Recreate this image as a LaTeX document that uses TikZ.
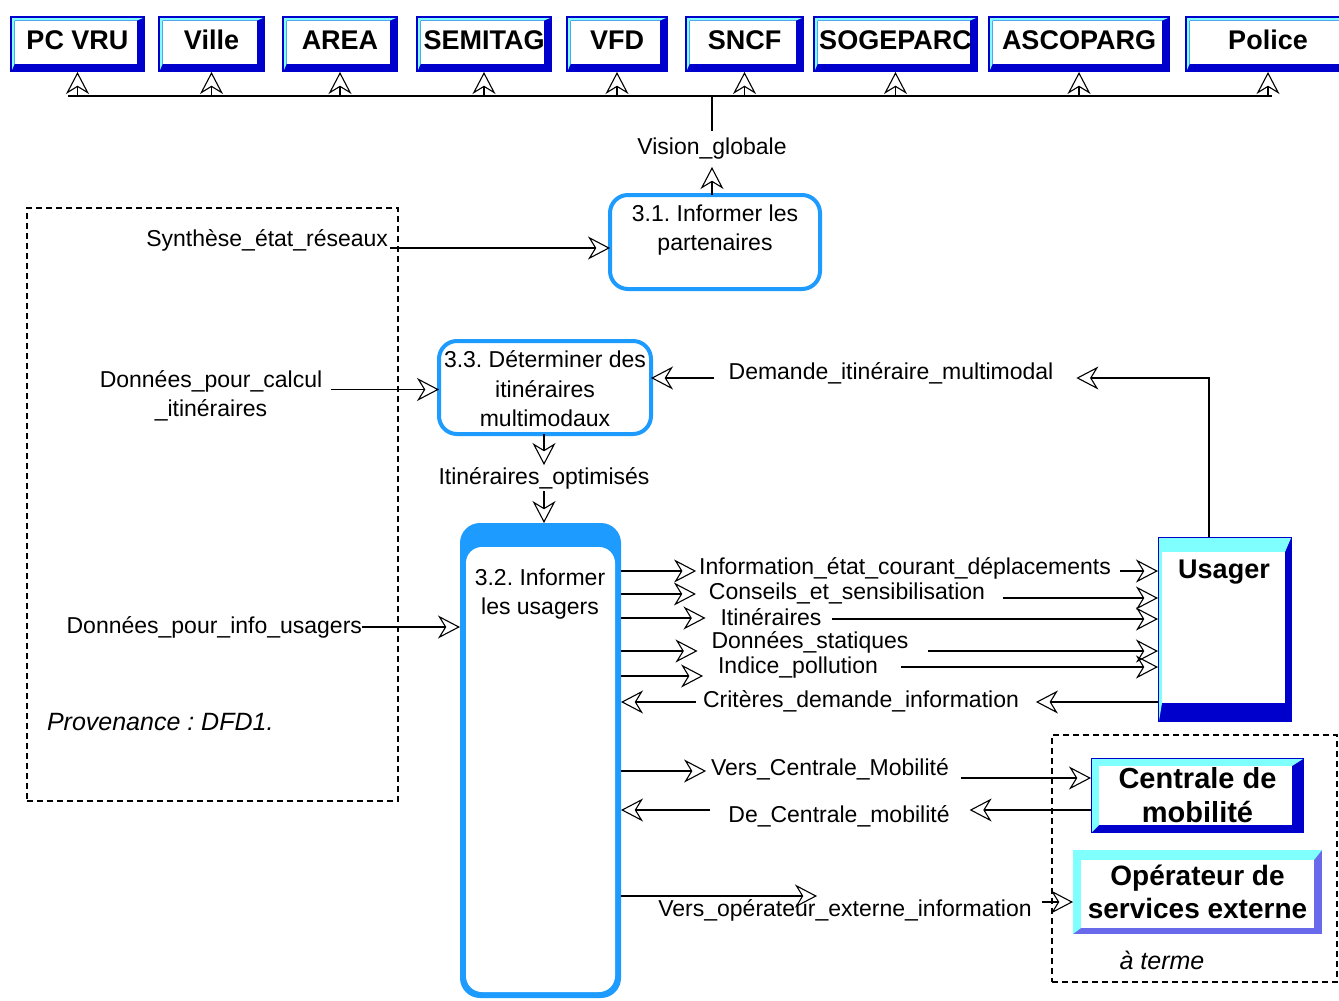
\documentclass[tikz,border=0pt]{standalone}
\usepackage{fontspec}
\setmainfont{Liberation Sans}
\usetikzlibrary{arrows.meta,calc}
\definecolor{procblue}{RGB}{30,155,255}
\definecolor{entblue}{RGB}{0,0,205}
\definecolor{entcyan}{RGB}{128,255,255}
\definecolor{entdots}{RGB}{105,105,235}
\frenchspacing
\begin{document}
\begin{tikzpicture}[x=0.5pt,y=-0.5pt,
  every node/.style={outer sep=0pt},
  txt/.style={font=\fontsize{11.5}{14.75}\selectfont, inner sep=0pt, align=center},
  flowlab/.style={txt, text height=8.5pt, text depth=2.5pt},
  note/.style={font=\fontsize{12.5}{15}\selectfont\itshape, inner sep=0pt},
  ent/.style={fill=entblue, inner sep=0pt, align=center},
  bevel/.style n args={5}{path picture={
    \fill[entcyan]
      ([shift={(#1,-#1)}]path picture bounding box.north west) --
      ([shift={(-#1,-#1)}]path picture bounding box.north east) --
      ([shift={(-#4,-#1-#3)}]path picture bounding box.north east) --
      ([shift={(#1+#2,-#1-#3)}]path picture bounding box.north west) --
      ([shift={(#1+#2,#5)}]path picture bounding box.south west) --
      ([shift={(#1,#1)}]path picture bounding box.south west) -- cycle;
    \fill[white]
      ([shift={(#1+#2,-#1-#3)}]path picture bounding box.north west) rectangle
      ([shift={(-#4,#5)}]path picture bounding box.south east);
  }},
  partner/.style={ent, bevel={1pt}{1.25pt}{1.25pt}{4pt}{4pt},
    minimum height=28pt, text height=10pt, text depth=4.5pt,
    font=\fontsize{13.5}{17}\selectfont\bfseries},
  proc/.style={draw=procblue, line width=2pt, rounded corners=9pt, inner sep=0pt},
  wire/.style={line width=0.55pt},
  flow/.style={wire, -{Stealth[open, length=11pt, width=11.5pt, inset=3.5pt]}},
  grp/.style={draw, line width=0.6pt, dash pattern=on 3pt off 2pt, inner sep=0pt},
]
\useasboundingbox (0,0) rectangle (1339,1001);
\clip (0,0) rectangle (1339,1001);

% dashed groupings
\node[grp, minimum width=185.5pt, minimum height=296.5pt] (src) at (212.5,504.5) {};
\node[grp, minimum width=142.5pt, minimum height=123.5pt] (later) at (1194.5,858.5) {};

% partners along the top
\node[partner, minimum width=67.5pt] (pcvru)    at (77.5,44)  {PC VRU};
\node[partner, minimum width=53.5pt] (ville)    at (211.5,44) {Ville};
\node[partner, minimum width=58pt]   (area)     at (340,44)   {AREA};
\node[partner, minimum width=68pt]   (semitag)  at (484,44)   {SEMITAG};
\node[partner, minimum width=51pt]   (vfd)      at (617,44)   {VFD};
\node[partner, minimum width=59.5pt] (sncf)     at (744.5,44) {SNCF};
\node[partner, minimum width=82.5pt] (sogeparc) at (895.5,44) {SOGEPARC};
\node[partner, minimum width=91pt]   (ascoparg) at (1079,44)  {ASCOPARG};
\node[partner, minimum width=83pt]   (police)   at (1268,44)  {Police};

% external entities on the right
\node[ent, bevel={0.5pt}{1.5pt}{7pt}{3.5pt}{9.5pt},
      minimum width=67pt, minimum height=92.5pt] (us) at (1225,629.5) {};
\node[inner sep=0pt, font=\fontsize{13.5}{17}\selectfont\bfseries] (ust) at (1224,572) {Usager};
\node[ent, bevel={0.5pt}{3.5pt}{3.5pt}{6pt}{4pt},
      minimum width=106.5pt, minimum height=37.5pt,
      font=\fontsize{14.5}{17}\selectfont\bfseries] (cm) at (1197.5,795.5) {Centrale de\\mobilité};
\node[ent, fill=entdots, bevel={0pt}{4pt}{5pt}{4pt}{3pt},
      minimum width=124.5pt, minimum height=42pt,
      font=\fontsize{14}{16.5}\selectfont\bfseries] (op) at (1197.5,892) {Opérateur de\\services externe};

% processes
\node[proc, minimum width=105pt, minimum height=47pt] (p31) at (715,242) {};
\node[txt] (p31t) at (715,230) {3.1. Informer les\\partenaires};
\node[proc, minimum width=106pt, minimum height=46.5pt] (p33) at (545,387.5) {};
\node[txt] (p33t) at (545,389) {3.3. Déterminer des\\itinéraires\\multimodaux};
\node[fill=procblue, rounded corners=10pt, inner sep=0pt,
      minimum width=80.5pt, minimum height=237.5pt,
      path picture={\fill[white, rounded corners=8pt]
        ([shift={(3pt,-12pt)}]path picture bounding box.north west) rectangle
        ([shift={(-3pt,3pt)}]path picture bounding box.south east);}] (p32) at (540.5,760.5) {};
\node[txt] (p32t) at (540,594) {3.2. Informer\\les usagers};

% flow labels
\node[flowlab] (vg)  at (712,148) {Vision\_globale};
\node[flowlab, anchor=east] (syn) at (388,240) {Synthèse\_état\_réseaux};
\node[txt] (dpc) at (211,396) {Données\_pour\_calcul\\\_itinéraires};
\node[flowlab, anchor=east] (dui) at (362,627) {Données\_pour\_info\_usagers};
\node[flowlab] (io)  at (544,478) {Itinéraires\_optimisés};
\node[flowlab] (dim) at (891,373) {Demande\_itinéraire\_multimodal};
\node[flowlab] (l1)  at (905,568) {Information\_état\_courant\_déplacements};
\node[flowlab] (l2)  at (847,593) {Conseils\_et\_sensibilisation};
\node[flowlab] (l3)  at (771,619) {Itinéraires};
\node[flowlab] (l4)  at (810,642) {Données\_statiques};
\node[flowlab] (l5)  at (798,667) {Indice\_pollution};
\node[flowlab] (l6)  at (861,701) {Critères\_demande\_information};
\node[flowlab] (vcm) at (830,769) {Vers\_Centrale\_Mobilité};
\node[flowlab] (dcm) at (839,816) {De\_Centrale\_mobilité};
\node[flowlab] (voe) at (845,910) {Vers\_opérateur\_externe\_information};
\node[note, anchor=west] (prov) at (47,722) {Provenance : DFD1.};
\node[note] (term) at (1162,960) {à terme};

% distribution bus to the partners
\coordinate (busL) at (68,96);
\coordinate (busR) at (1272,96);
\draw[wire] (busL) -- (busR);
\foreach \e in {pcvru,ville,area,semitag,vfd,sncf,sogeparc,ascoparg,police}
  \draw[flow] (\e.south |- busL) -- (\e.south);
\draw[wire] ($(vg.north)+(0pt,3pt)$) -- (vg.north |- busL);
\draw[flow] (p31.north -| vg.south) -- ($(vg.south)+(0pt,-4pt)$);

% inputs from the left
\draw[flow] ($(syn.east)+(1pt,-4pt)$) -- ($(syn.east -| p31.west)+(0pt,-4pt)$);
\draw[flow] ($(dpc.east |- p33.west)+(4.5pt,-1pt)$) -- ($(p33.west)+(0pt,-1pt)$);
\draw[flow] (dui.east) -- (dui.east -| p32.west);

% 3.3 to 3.2
\draw[flow] (p33.south -| io.north) -- ($(io.north)+(0pt,1pt)$);
\draw[flow] ($(io.south)+(0pt,-1pt)$) -- (io.south |- p32.north);

% request from the user
\draw[flow] ($(us.north)+(-8pt,0pt)$) |- ($(dim.east)+(11.5pt,-2.5pt)$);
\draw[flow] ($(dim.west)+(-7.5pt,-2.5pt)$) -- ($(dim.west -| p33.east)+(0pt,-2.5pt)$);

% 3.2 to the user
\draw[flow] ($(l1.west -| p32.east)+(0pt,-1.5pt)$) -- ($(l1.west)+(-1.5pt,-1.5pt)$);
\draw[flow] ($(l1.east)+(4.5pt,-1.5pt)$) -- ($(l1.east -| us.west)+(0pt,-1.5pt)$);
\draw[flow] ($(l2.west -| p32.east)+(0pt,-0.5pt)$) -- ($(l2.west)+(-6.5pt,-0.5pt)$);
\draw[flow] ($(l2.east)+(9pt,-2.5pt)$) -- ($(l2.east -| us.west)+(0pt,-2.5pt)$);
\draw[flow] ($(l3.west -| p32.east)+(0pt,0.5pt)$) -- ($(l3.west)+(-7.5pt,0.5pt)$);
\draw[flow] ($(l3.east)+(5pt,0pt)$) -- (l3.east -| us.west);
\draw[flow] ($(l4.west -| p32.east)+(0pt,-4.5pt)$) -- ($(l4.west)+(-7pt,-4.5pt)$);
\draw[flow] ($(l4.east)+(10pt,-4.5pt)$) -- ($(l4.east -| us.west)+(0pt,-4.5pt)$);
\draw[flow] ($(l5.west -| p32.east)+(0pt,-4.5pt)$) -- ($(l5.west)+(-7.5pt,-4.5pt)$);
\draw[flow] ($(l5.east)+(11.5pt,0pt)$) -- (l5.east -| us.west);
\draw[flow] ($(l6.west)+(-3.5pt,-0.5pt)$) -- ($(l6.west -| p32.east)+(0pt,-0.5pt)$);
\draw[flow] ($(l6.east -| us.west)+(0pt,-0.5pt)$) -- ($(l6.east)+(8.5pt,-0.5pt)$);

% exchanges with the mobility centre and external operator
\draw[flow] ($(vcm.west -| p32.east)+(0pt,-1pt)$) -- ($(vcm.west)+(-2.5pt,-1pt)$);
\draw[flow] ($(vcm.east)+(6pt,-4.5pt)$) -- ($(vcm.east -| cm.west)+(0pt,-4.5pt)$);
\draw[flow] ($(dcm.east -| cm.west)+(0pt,3pt)$) -- ($(dcm.east)+(10pt,3pt)$);
\draw[flow] ($(dcm.west)+(-9pt,3pt)$) -- ($(dcm.west -| p32.east)+(0pt,3pt)$);
\draw[flow] ($(voe.center -| p32.east)+(0pt,7pt)$) -- ($(voe.center)+(-14pt,7pt)$);
\draw[flow] ($(voe.east)+(5pt,4pt)$) -- ($(voe.east -| op.west)+(0pt,4pt)$);
\end{tikzpicture}
\end{document}
